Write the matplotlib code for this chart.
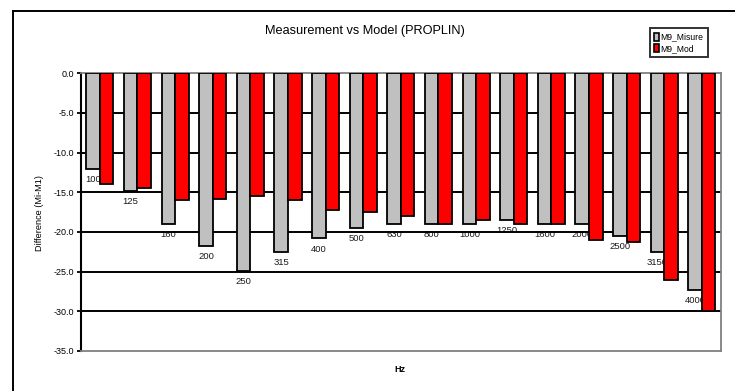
import numpy as np
import matplotlib
matplotlib.use("Agg")
import matplotlib.pyplot as plt
from matplotlib.lines import Line2D
from matplotlib.patches import Patch

plt.rcParams["font.family"] = ["Liberation Sans", "DejaVu Sans"]

# ── data ─────────────────────────────────────────────────────────────────
FREQS = ["100", "125", "160", "200", "250", "315", "400", "500", "630", "800",
         "1000", "1250", "1600", "2000", "2500", "3150", "4000"]
MISURE = [-12.0, -14.8, -19.0, -21.8, -24.9, -22.5, -20.8, -19.5, -19.0, -19.0,
          -19.0, -18.5, -19.0, -19.0, -20.5, -22.5, -27.3]
MOD = [-14.0, -14.5, -16.0, -15.8, -15.5, -16.0, -17.2, -17.5, -18.0, -19.0,
       -18.5, -19.0, -19.0, -21.0, -21.3, -26.1, -30.0]

GREY = "#c0c0c0"
RED = "#ff0000"
EDGE = "#808080"

W, H = 735, 391
fig = plt.figure(figsize=(W / 100, H / 100), dpi=100)

# outer chart frame: only top and left edges fall inside the picture
fig.add_artist(Line2D([12.7 / W, 12.7 / W], [0, 1 - 11 / H], color="black", lw=1.4))
fig.add_artist(Line2D([12.7 / W, 1], [1 - 11 / H, 1 - 11 / H], color="black", lw=1.4))

x0, x1, y0, y1 = 81, 720.7, 73.3, 351
ax = fig.add_axes([x0 / W, 1 - y1 / H, (x1 - x0) / W, (y1 - y0) / H])

x = np.arange(len(FREQS))
bw = 0.36
ax.bar(x - bw / 2, MISURE, bw, color=GREY, edgecolor="black", lw=1.3, zorder=3)
ax.bar(x + bw / 2, MOD, bw, color=RED, edgecolor="black", lw=1.3, zorder=3)

# category names hang under each grey bar (gridlines run over them)
for xi, v, lab in zip(x, MISURE, FREQS):
    ax.annotate(lab, xy=(xi - bw / 2, v), xytext=(0, -7.7), textcoords="offset points",
                ha="center", va="center", fontsize=6.8, color="#1a1a1a", zorder=0.5)

ax.set_xlim(-0.5, len(FREQS) - 0.5)
ax.set_ylim(-35, 0)
ax.set_yticks(np.arange(-35, 0.1, 5))
ax.set_yticklabels([f"{v:.1f}" for v in np.arange(-35, 0.1, 5)], fontsize=6.5)
ax.set_xticks([])
for v in range(-30, 0, 5):
    ax.axhline(v, color="black", lw=1.4, zorder=1)

for s in ("top", "right", "bottom"):
    ax.spines[s].set_color(EDGE)
    ax.spines[s].set_linewidth(1.3)
ax.spines["left"].set_color("black")
ax.spines["left"].set_linewidth(1.5)
ax.tick_params(axis="y", length=3, width=1.3, pad=2)

fig.text(40 / W, 1 - 213 / H, "Difference (Mi-M1)", rotation=90, ha="center",
         va="center", fontsize=6.6)
fig.text(400 / W, 1 - 369 / H, "Hz", ha="center", va="center", fontsize=6.5,
         fontweight="bold")
fig.text(365 / W, 1 - 31 / H, "Measurement vs Model (PROPLIN)", ha="center",
         va="center", fontsize=9.2)

handles = [Patch(facecolor=GREY, edgecolor="black", lw=1.2),
           Patch(facecolor=RED, edgecolor="black", lw=1.2)]
leg = fig.legend(handles, ["M9_Misure", "M9_Mod"], loc="upper right",
                 bbox_to_anchor=(707.5 / W, 1 - 28.3 / H), fontsize=6.2,
                 frameon=True, fancybox=False, handlelength=0.55, handleheight=1.0,
                 handletextpad=0.15, borderpad=0.5, labelspacing=0.25,
                 borderaxespad=0)
leg.get_frame().set_edgecolor("black")
leg.get_frame().set_linewidth(1.4)

fig.savefig("out.png", dpi=100)
